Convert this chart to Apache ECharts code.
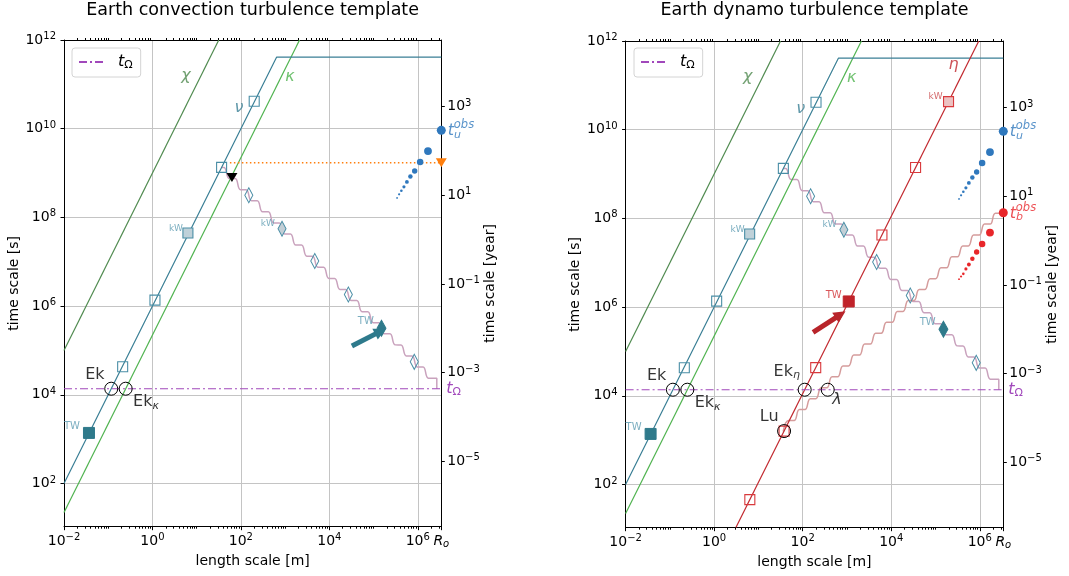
<!DOCTYPE html>
<html>
<head>
<meta charset="utf-8">
<script src="https://cdn.jsdelivr.net/npm/echarts/dist/echarts.min.js"></script>
<style>html,body{margin:0;padding:0;background:#fff}#c{width:1069px;height:576px}</style>
</head>
<body>
<div id="c"></div>
<script>
// ================= DATA =================
const R_O = 3.4e6;             // outer-core radius [m] (end of length axis)
const T_OMEGA = 1.37e4;        // rotation time t_Omega [s]
const SEC_PER_YEAR = 3.156e7;
const X_EXTENT = [0.01, R_O];
const Y_EXTENT = [10.6, 1e12];

const X_TICK_LABELS = [0.01, 1, 100, 1e4, 1e6, R_O];
const Y_TICK_LABELS = [1e2, 1e4, 1e6, 1e8, 1e10, 1e12];
const YEAR_TICK_LABELS = [1e-5, 1e-3, 1e-1, 1e1, 1e3];

// diffusion lines  tau = L^2 / D
const CHI_LINE = [[0.01, 1e5], [31.6, 1e12]];
const KAPPA_LINE = [[0.01, 22.2], [2121, 1e12]];
const NU_LINE = [[0.01, 100], [640, 4.1e11], [R_O, 4.1e11]];
const ETA_LINE = [[3.1, 10.7], [9.5e5, 1e12]];
const T_OMEGA_LINE = [[0.01, T_OMEGA], [R_O, T_OMEGA]];

// viscous branch markers
const NU_SQUARES = [[0.212, 4.27e4], [1.14, 1.36e6], [36.6, 1.34e9], [200, 4.17e10]];
const NU_KW = [[6.34, 4.43e7]];
const NU_TW = [[0.0367, 1380]];
const EK_POINT = [[0.117, T_OMEGA]];
const EK_KAPPA_POINT = [[0.248, T_OMEGA]];

// inertial (descending) branch markers
const DIAMONDS = [[151, 3.16e8], [4680, 1.04e7], [26900, 1.82e6], [832000, 5.53e4]];
const DIAMOND_KW = [[851, 5.53e7]];
const DIAMOND_TW = [[151000, 3.16e5]];

// descending staircase: start, step centres, end
const DESC_START = [36.6, 1.34e9];
const DESC_STEPS = [[47.9, 1.0e9], [85.1, 5.62e8], [151, 3.16e8], [269, 1.78e8], [479, 1.0e8],
  [851, 5.62e7], [1514, 3.16e7], [2692, 1.78e7], [4786, 1.0e7], [8511, 5.62e6], [15136, 3.16e6],
  [26915, 1.78e6], [47863, 1.0e6], [85114, 5.62e5], [151356, 3.16e5], [269153, 1.78e5],
  [478630, 1.0e5], [851138, 5.62e4], [1513561, 3.16e4]];
const DESC_END = [[2.69e6, 2.37e4], [2.69e6, T_OMEGA]];

// magnetic (ascending) staircase
const ASC_START = [38, 1600];
const ASC_STEPS = [[41.7, 2089], [73.5, 3681], [129.4, 6486], [228, 11429], [401.8, 20137],
  [707.9, 35481], [1247, 62517], [2198, 110154], [3873, 194089], [6823, 341979], [12023, 602560],
  [21184, 1.0617e6], [37325, 1.8707e6], [65766, 3.2961e6], [115878, 5.8076e6], [204174, 1.0233e7],
  [359749, 1.803e7], [633870, 3.1769e7], [1.1169e6, 5.5976e7], [1.9679e6, 9.8628e7]];
const ASC_END = [[R_O, 1.31e8]];

// observed spectra (harmonic degrees 1..10)
const DEGREE_LENGTH = [3.4e6, 1.7e6, 1.13e6, 8.5e5, 6.8e5, 5.67e5, 4.86e5, 4.25e5, 3.78e5, 3.4e5];
const TU_OBS = [9.19e9, 3.13e9, 1.78e9, 1.11e9, 8.32e8, 6.31e8, 4.9e8, 3.98e8, 3.31e8, 2.75e8];
const TB_OBS = [1.34e8, 4.79e7, 2.63e7, 1.74e7, 1.23e7, 9.12e6, 7.24e6, 5.62e6, 4.9e6, 4.27e6];

// convection-only markers
const BLACK_TRIANGLE = [[62.7, 7.9e8]];
const ORANGE_LINE = [[56.4, 1.71e9], [R_O, 1.71e9]];
const ORANGE_TRIANGLE = [[R_O, 1.71e9]];
const ARROW_CONV = [[32359, 1.26e5], [142900, 2.69e5]];

// dynamo-only markers
const ETA_SQUARES = [[6.4, 45.5], [197, 4.31e4], [6166, 4.22e7], [35481, 1.40e9]];
const ETA_KW = [[1.97e5, 4.3e10]];
const ETA_TW = [[1096, 1.34e6]];
const LU_POINT = [[38, 1600]];
const EK_ETA_POINT = [[111, T_OMEGA]];
const LAMBDA_POINT = [[368, T_OMEGA]];
const ARROW_DYN = [[171.4, 2.69e5], [714.5, 6.78e5]];

// ================= STYLE =================
const FONT = 'DejaVu Sans';
const C_CHI = '#4f8a4f', C_KAPPA = '#4fb34f', C_NU = '#3a7f95', C_NU_MK = '#4a8ea6',
  C_NU_DARK = '#2f7a8b', C_NU_TXT = '#5a9ab0', C_ETA = '#c1272d', C_ETA_MK = '#d9393c',
  C_PURPLE = '#a148bb', C_DESC = '#c9a2bd', C_ASC = '#d59c9c', C_BLUE = '#2f78bd',
  C_RED = '#e8262a', C_ORANGE = '#ff7f0e', C_GRID = '#c4c4c4';
const DOT_SIZE = [9, 7.8, 6.5, 5.4, 4.5, 3.8, 3.2, 2.6, 2.2, 1.8];
const STEP_HALF_W = 0.06;   // decades

const TICK_RICH = {
  b: {fontFamily: FONT, fontSize: 14, lineHeight: 17, color: '#000'},
  e: {fontFamily: FONT, fontSize: 10, lineHeight: 6, verticalAlign: 'top', color: '#000'},
  ri: {fontFamily: FONT, fontSize: 14, fontStyle: 'italic', lineHeight: 17, color: '#000'},
  rs: {fontFamily: FONT, fontSize: 10, fontStyle: 'italic', lineHeight: 6, verticalAlign: 'bottom', color: '#000'}
};
const ANN_RICH = {
  g: {fontFamily: FONT, fontSize: 16, fontStyle: 'italic', lineHeight: 18},
  r: {fontFamily: FONT, fontSize: 16, lineHeight: 18},
  gs: {fontFamily: FONT, fontSize: 11, fontStyle: 'italic', lineHeight: 7, verticalAlign: 'bottom'},
  us: {fontFamily: FONT, fontSize: 11, lineHeight: 7, verticalAlign: 'bottom'},
  sm: {fontFamily: FONT, fontSize: 10, lineHeight: 12},
  sk: {fontFamily: FONT, fontSize: 9, lineHeight: 11},
  t: {fontFamily: FONT, fontSize: 16, fontStyle: 'italic', lineHeight: 18},
  sup: {fontFamily: FONT, fontSize: 11.5, fontStyle: 'italic', lineHeight: 12}
};

function expStr(v) {
  const n = Math.round(Math.log10(v));
  return '{b|10}{e|' + (n < 0 ? '\u2212' + (-n) : n) + '}';
}
function xFmt(v) {
  if (Math.abs(v / R_O - 1) < 1e-3) return '{ri|R}{rs|o}';
  return expStr(v);
}
function minorTicks(lo, hi) {
  const out = [];
  for (let n = -3; n <= 7; n++) {
    for (let m = 1; m <= 9; m++) {
      if (m === 1 && n % 2 === 0) continue;
      const v = m * Math.pow(10, n);
      if (v > lo * 1.0001 && v < hi * 0.9999) out.push(v);
    }
  }
  return out;
}
const X_MINOR = minorTicks(X_EXTENT[0], X_EXTENT[1]);

// staircase (wavy) shape from step centres
function stairs(start, steps, halfH, dir, end) {
  const fx = Math.pow(10, STEP_HALF_W), fy = Math.pow(10, halfH);
  const pts = [start];
  steps.forEach(([x, y]) => {
    pts.push([x / fx, dir < 0 ? y * fy : y / fy]);
    pts.push([x * fx, dir < 0 ? y / fy : y * fy]);
  });
  end.forEach(p => pts.push(p));
  return pts;
}

// annotations (text anchored at data coordinates)
const ANN_SHARED = [
  {at: [5.71, 1.55e11], text: '{g|χ}', color: C_CHI},
  {at: [90.2, 2.95e10], text: '{g|ν}', color: C_NU},
  {at: [1279, 1.48e11], text: '{g|κ}', color: C_KAPPA},
  {at: [3.40, 5.5e7], text: '{sk|kW}', color: C_NU_TXT},
  {at: [407, 7.41e7], text: '{sk|kW}', color: C_NU_TXT},
  {at: [0.0151, 1950], text: '{sm|TW}', color: C_NU_TXT},
  {at: [66800, 4.57e5], text: '{sm|TW}', color: C_NU_TXT},
  {at: [0.0501, 2.75e4], text: '{r|Ek}', color: '#000'},
  {at: [0.713, 6760], text: '{r|Ek}{gs|κ}', color: '#000'},
  {at: [R_O, TU_OBS[0]], text: '{t|t}{gs|u}', color: C_BLUE, position: 'right', offset: [1, 1]},
  {at: [R_O, TU_OBS[0]], text: '{sup|obs}', color: C_BLUE, position: 'right', offset: [7, -5]}
];
const ANN_DYN = [
  {at: [2.56e5, 2.88e11], text: '{g|η}', color: C_ETA},
  {at: [1e5, 5.6e10], text: '{sk|kW}', color: '#c9474a'},
  {at: [501, 1.82e6], text: '{sm|TW}', color: '#d02c30'},
  {at: [43.6, 3.55e4], text: '{r|Ek}{gs|η}', color: '#000'},
  {at: [596, 7940], text: '{g|λ}', color: '#000'},
  {at: [17.5, 3350], text: '{r|Lu}', color: '#000'},
  {at: [R_O, TB_OBS[0]], text: '{t|t}{gs|b}', color: C_RED, position: 'right', offset: [1, 1]},
  {at: [R_O, TB_OBS[0]], text: '{sup|obs}', color: C_RED, position: 'right', offset: [7, -5]}
];

// ================= BUILD =================
function axesFor(p) {
  const gi = p;
  const xs = [
    {gridIndex: gi, type: 'log', min: X_EXTENT[0], max: X_EXTENT[1], position: 'bottom',
      name: 'length scale [m]', nameLocation: 'middle', nameGap: 17,
      nameTextStyle: {fontFamily: FONT, fontSize: 14, color: '#000'},
      axisLine: {show: true, onZero: false, lineStyle: {color: '#000', width: 1}},
      axisTick: {show: true, length: 3.5, lineStyle: {color: '#000'}, customValues: X_TICK_LABELS},
      axisLabel: {show: true, customValues: X_TICK_LABELS, formatter: xFmt, margin: 6, rich: TICK_RICH, hideOverlap: false},
      splitLine: {show: true, lineStyle: {color: C_GRID, width: 1}}},
    {gridIndex: gi, type: 'log', min: X_EXTENT[0], max: X_EXTENT[1], position: 'bottom',
      axisLine: {show: false}, axisLabel: {show: false}, splitLine: {show: false},
      axisTick: {show: true, length: 2, lineStyle: {color: '#000'}, customValues: X_MINOR}},
    {gridIndex: gi, type: 'log', min: X_EXTENT[0], max: X_EXTENT[1], position: 'top',
      axisLine: {show: true, onZero: false, lineStyle: {color: '#000', width: 1}},
      axisLabel: {show: false}, splitLine: {show: false},
      axisTick: {show: true, length: 2, lineStyle: {color: '#000'}, customValues: X_MINOR}}
  ];
  const ys = [
    {gridIndex: gi, type: 'log', min: Y_EXTENT[0], max: Y_EXTENT[1], position: 'left',
      name: 'time scale [s]', nameLocation: 'middle', nameGap: 43, nameRotate: 90,
      nameTextStyle: {fontFamily: FONT, fontSize: 14, color: '#000'},
      axisLine: {show: true, onZero: false, lineStyle: {color: '#000', width: 1}},
      axisTick: {show: true, length: 3.5, lineStyle: {color: '#000'}, customValues: Y_TICK_LABELS},
      axisLabel: {show: true, customValues: Y_TICK_LABELS, formatter: expStr, margin: 8, rich: TICK_RICH},
      splitLine: {show: true, lineStyle: {color: C_GRID, width: 1}}},
    {gridIndex: gi, type: 'log', min: Y_EXTENT[0] / SEC_PER_YEAR, max: Y_EXTENT[1] / SEC_PER_YEAR, position: 'right',
      name: 'time scale [year]', nameLocation: 'middle', nameGap: 42, nameRotate: 90,
      nameTextStyle: {fontFamily: FONT, fontSize: 14, color: '#000'},
      axisLine: {show: true, onZero: false, lineStyle: {color: '#000', width: 1}},
      axisTick: {show: true, length: 3.5, lineStyle: {color: '#000'}, customValues: YEAR_TICK_LABELS},
      axisLabel: {show: true, customValues: YEAR_TICK_LABELS, formatter: expStr, margin: 6, rich: TICK_RICH},
      splitLine: {show: false}}
  ];
  return {xs, ys};
}

function seriesFor(p) {
  const xi = p * 3, yi = p * 2;
  const base = {xAxisIndex: xi, yAxisIndex: yi, animation: false, silent: true};
  const line = (name, data, color, width, extra) => Object.assign({}, base, {
    type: 'line', name, data, symbol: 'none', showSymbol: false, z: 3,
    itemStyle: {color}, lineStyle: {color, width}}, extra || {});
  const scat = (data, symbol, size, itemStyle, extra) => Object.assign({}, base, {
    type: 'scatter', data, symbol, symbolSize: size,
    itemStyle: Object.assign({opacity: 1}, itemStyle), z: 5, clip: false}, extra || {});
  const hollow = (c, w) => ({color: 'rgba(0,0,0,0)', borderColor: c, borderWidth: w || 1.1});

  const s = [];
  s.push(line('chi', CHI_LINE, C_CHI, 1.2));
  s.push(line('kappa', KAPPA_LINE, C_KAPPA, 1.2));
  s.push(line('nu', NU_LINE, C_NU, 1.2));
  if (p === 1) s.push(line('eta', ETA_LINE, C_ETA, 1.2));
  s.push(line('tΩ', T_OMEGA_LINE, C_PURPLE, 1.1, {
    lineStyle: {color: C_PURPLE, width: 1.1, type: [8, 3, 2, 3]},
    endLabel: {show: true, formatter: '{t|t}{us|Ω}', color: C_PURPLE, distance: 5, rich: ANN_RICH}
  }));
  s.push(line('desc', stairs(DESC_START, DESC_STEPS, 0.125, -1, DESC_END), C_DESC, 1.5, {smooth: 0.45, z: 2}));
  if (p === 1) s.push(line('asc', stairs(ASC_START, ASC_STEPS, 0.123, 1, ASC_END), C_ASC, 1.5, {smooth: 0.45, z: 2}));
  if (p === 0) s.push(line('orange', ORANGE_LINE, C_ORANGE, 1.5, {lineStyle: {color: C_ORANGE, width: 1.5, type: [1.5, 2.5]}}));

  // markers
  s.push(scat(NU_SQUARES, 'rect', 10, hollow(C_NU_MK)));
  s.push(scat(NU_KW, 'rect', 10, {color: '#bfd1d9', borderColor: C_NU_MK, borderWidth: 1.1}));
  s.push(scat(NU_TW, 'rect', 11, {color: C_NU_DARK, borderColor: C_NU_DARK, borderWidth: 1}));
  s.push(scat(DIAMONDS, 'diamond', [8, 15], hollow(C_NU_MK)));
  s.push(scat(DIAMOND_KW, 'diamond', [8, 15], {color: '#c3cfd6', borderColor: C_NU_MK, borderWidth: 1.1}));
  s.push(scat(DIAMOND_TW, 'diamond', [9, 16], {color: C_NU_DARK, borderColor: C_NU_DARK, borderWidth: 1}));
  s.push(scat(EK_POINT.concat(EK_KAPPA_POINT), 'circle', 13, hollow('#000', 1)));
  const dots = (ys, c) => scat(DEGREE_LENGTH.map((x, i) => [x, ys[i]]), 'circle',
    (v, prm) => DOT_SIZE[prm.dataIndex], {color: c}, {z: 6});
  s.push(dots(TU_OBS, C_BLUE));
  if (p === 0) {
    s.push(scat(BLACK_TRIANGLE, 'triangle', [11, 9], {color: '#000'}, {symbolRotate: 180}));
    s.push(scat(ORANGE_TRIANGLE, 'triangle', [11, 9], {color: C_ORANGE}, {symbolRotate: 180}));
  } else {
    s.push(scat(ETA_SQUARES, 'rect', 10, hollow(C_ETA_MK)));
    s.push(scat(ETA_KW, 'rect', 10, {color: '#ecc2c2', borderColor: C_ETA_MK, borderWidth: 1.1}));
    s.push(scat(ETA_TW, 'rect', 11, {color: '#c0232a', borderColor: '#c0232a', borderWidth: 1}));
    s.push(scat(LU_POINT, 'rect', 10, hollow(C_ETA_MK)));
    s.push(scat(LU_POINT.concat(EK_ETA_POINT, LAMBDA_POINT), 'circle', 13, hollow('#000', 1)));
    s.push(dots(TB_OBS, C_RED));
  }
  // arrow
  const arrow = p === 0 ? ARROW_CONV : ARROW_DYN;
  const ac = p === 0 ? '#2e7a8c' : '#b8242a';
  s.push(Object.assign({}, base, {
    type: 'lines', coordinateSystem: 'cartesian2d', z: 7,
    symbol: ['none', 'triangle'], symbolSize: [13, 12],
    lineStyle: {color: ac, width: 5, opacity: 1, curveness: 0},
    data: [{coords: arrow}]
  }));
  // annotations
  const anns = p === 0 ? ANN_SHARED : ANN_SHARED.concat(ANN_DYN);
  s.push(Object.assign({}, base, {
    type: 'scatter', symbol: 'circle', symbolSize: 1, z: 8, clip: false,
    itemStyle: {color: 'rgba(0,0,0,0)'},
    data: anns.map(a => ({
      value: a.at,
      label: {show: true, position: a.position || 'inside', offset: a.offset || [0, 0],
        distance: 5, formatter: a.text, color: a.color, rich: ANN_RICH,
        fontFamily: FONT, textBorderWidth: 0}
    }))
  }));
  return s;
}

const A0 = axesFor(0), A1 = axesFor(1);
const legendCommon = {
  data: ['tΩ'], top: 48, orient: 'vertical', itemWidth: 26, itemHeight: 14,
  padding: [6, 8, 6, 6], borderColor: '#d4d4d4', borderWidth: 1, borderRadius: 3,
  backgroundColor: '#fff', selectedMode: false,
  itemStyle: {color: 'rgba(0,0,0,0)', borderWidth: 0, opacity: 0},
  formatter: () => '{t|t}{us|Ω}',
  textStyle: {color: '#000', padding: [0, 0, 0, 8], rich: ANN_RICH}
};
const option = {
  animation: false,
  backgroundColor: '#fff',
  title: [
    {text: 'Earth convection turbulence template', left: 252.6, top: 1, textAlign: 'center', padding: 0,
      textStyle: {fontFamily: FONT, fontSize: 17.5, fontWeight: 'normal', color: '#000'}},
    {text: 'Earth dynamo turbulence template', left: 814.5, top: 1, textAlign: 'center', padding: 0,
      textStyle: {fontFamily: FONT, fontSize: 17.5, fontWeight: 'normal', color: '#000'}}
  ],
  legend: [
    Object.assign({}, legendCommon, {left: 72}),
    Object.assign({}, legendCommon, {left: 634})
  ],
  grid: [
    {left: 64, top: 40, width: 377.3, height: 486.7},
    {left: 625.6, top: 41, width: 377.7, height: 486.7}
  ],
  xAxis: A0.xs.concat(A1.xs),
  yAxis: A0.ys.concat(A1.ys),
  series: seriesFor(0).concat(seriesFor(1))
};
const chart = echarts.init(document.getElementById('c'), null, {renderer: 'canvas'});
chart.setOption(option);
</script>
</body>
</html>
